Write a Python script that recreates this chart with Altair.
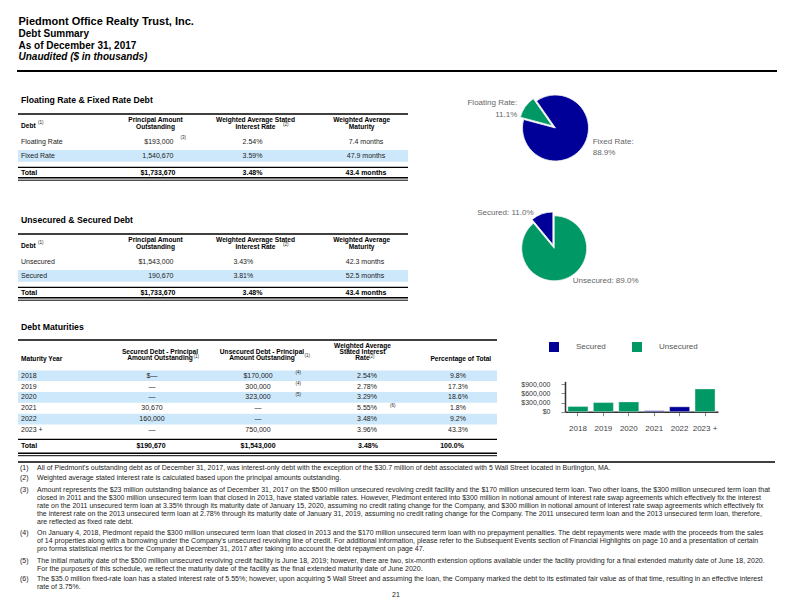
import math
import altair as alt
import pandas as pd

# ----------------------------- data -----------------------------
title_lines = ["Piedmont Office Realty Trust, Inc.", "Debt Summary",
               "As of December 31, 2017", "Unaudited ($ in thousands)"]
section_titles = ["Floating Rate & Fixed Rate Debt", "Unsecured & Secured Debt", "Debt Maturities"]

t1_rows = ["Floating Rate", "Fixed Rate"]
t1_principal = ["$193,000", "1,540,670"]
t1_rate = ["2.54%", "3.59%"]
t1_maturity = ["7.4 months", "47.9 months"]
t1_total = ["Total", "$1,733,670", "3.48%", "43.4 months"]

t2_rows = ["Unsecured", "Secured"]
t2_principal = ["$1,543,000", "190,670"]
t2_rate = ["3.43%", "3.81%"]
t2_maturity = ["42.3 months", "52.5 months"]
t2_total = ["Total", "$1,733,670", "3.48%", "43.4 months"]

years = ["2018", "2019", "2020", "2021", "2022", "2023 +"]
t3_secured = ["$—", "—", "—", "30,670", "160,000", "—"]
t3_unsecured = ["$170,000", "300,000", "323,000", "—", "—", "750,000"]
t3_rate = ["2.54%", "2.78%", "3.29%", "5.55%", "3.48%", "3.96%"]
t3_pct = ["9.8%", "17.3%", "18.6%", "1.8%", "9.2%", "43.3%"]
t3_total = ["Total", "$190,670", "$1,543,000", "3.48%", "100.0%"]

bar_kinds = ["Secured", "Unsecured"]
bar_secured = [0, 0, 0, 30670, 160000, 0]
bar_unsecured = [170000, 300000, 323000, 0, 0, 750000]
bar_ticks = [0, 300000, 600000, 900000]

mix1_labels = ["Fixed Rate", "Floating Rate"]
mix1_amounts = [1540670, 193000]
mix1_pct = ["88.9%", "11.1%"]
mix2_labels = ["Unsecured", "Secured"]
mix2_amounts = [1543000, 190670]
mix2_pct = ["89.0%", "11.0%"]

fn_nums = ["(1)", "(2)", "(3)", "(4)", "(5)", "(6)"]
fn_lines = [
    ["All of Piedmont's outstanding debt as of December 31, 2017, was interest-only debt with the exception of the $30.7 million of debt associated with 5 Wall Street located in Burlington, MA."],
    ["Weighted average stated interest rate is calculated based upon the principal amounts outstanding."],
    ["Amount represents the $23 million outstanding balance as of December 31, 2017 on the $500 million unsecured revolving credit facility and the $170 million unsecured term loan. Two other loans, the $300 million unsecured term loan that",
     "closed in 2011 and the $300 million unsecured term loan that closed in 2013, have stated variable rates.  However, Piedmont entered into $300 million in notional amount of interest rate swap agreements which effectively fix the interest",
     "rate on the 2011 unsecured term loan at 3.35% through its maturity date of January 15, 2020, assuming no credit rating change for the Company, and $300 million in notional amount of interest rate swap agreements which effectively fix",
     "the interest rate on the 2013 unsecured term loan at 2.78% through its maturity date of January 31, 2019, assuming no credit rating change for the Company.  The 2011 unsecured term loan and the 2013 unsecured term loan, therefore,",
     "are reflected as fixed rate debt."],
    ["On January 4, 2018, Piedmont repaid the $300 million unsecured term loan that closed in 2013 and the $170 million unsecured term loan with no prepayment penalties.  The debt repayments were made with the proceeds from the sales",
     "of 14 properties along with a borrowing under the Company's unsecured revolving line of credit.  For additional information, please refer to the Subsequent Events section of Financial Highlights on page 10 and a presentation of certain",
     "pro forma statistical metrics for the Company at December 31, 2017 after taking into account the debt repayment on page 47."],
    ["The initial maturity date of the $500 million unsecured revolving credit facility is June 18, 2019; however, there are two, six-month extension options available under the facility providing for a final extended maturity date of June 18, 2020.",
     "For the purposes of this schedule, we reflect the maturity date of the facility as the final extended maturity date of June 2020."],
    ["The $35.0 million fixed-rate loan has a stated interest rate of 5.55%; however, upon acquiring 5 Wall Street and assuming the loan, the Company marked the debt to its estimated fair value as of that time, resulting in an effective interest",
     "rate of 3.75%."],
]
page_number = "21"

# ----------------------------- styling / layout -----------------------------
NAVY = "#000099"
GREEN = "#009966"
BAND = "#cde8fb"
SANS = "Liberation Sans, Arial, Helvetica, sans-serif"
BODY = "#222222"
OFF = 8
W, H = 776, 596
ONE = alt.Data(values=[{}])


def px(v):
    return v - OFF


layers = []


def text(s, x, y, size=7.0, weight="normal", style="normal", align="left",
         color="#000000", baseline="middle"):
    kw = dict(text=s, align=align, baseline=baseline, fontSize=size, fontWeight=weight,
              fontStyle=style, font=SANS, color=color)
    layers.append(alt.Chart(ONE).mark_text(**kw).encode(x=alt.value(px(x)), y=alt.value(px(y))))


def header(lines, x, y_first, lh, align="center", size=6.6):
    for k, ln in enumerate(lines):
        text(ln, x, y_first + k * lh, size=size, weight="bold", align=align)


def hrule(x1, x2, y, w=1.0, color="#000000"):
    layers.append(alt.Chart(ONE).mark_rule(strokeWidth=w, color=color).encode(
        x=alt.value(px(x1)), x2=alt.value(px(x2)), y=alt.value(px(y))))


def band(x1, x2, y1, y2, color=BAND):
    layers.append(alt.Chart(ONE).mark_rect(color=color).encode(
        x=alt.value(px(x1)), x2=alt.value(px(x2)), y=alt.value(px(y1)), y2=alt.value(px(y2))))


def column(rows, vals, x, align, ytop, ybot, weight="normal", size=7.0):
    df = pd.DataFrame({"row": rows, "val": vals})
    layers.append(alt.Chart(df).mark_text(align=align, baseline="middle", fontSize=size,
                                          fontWeight=weight, font=SANS, color=BODY).encode(
        x=alt.value(px(x)),
        y=alt.Y("row:N", scale=alt.Scale(type="point", domain=rows, range=[px(ytop), px(ybot)], padding=0),
                axis=None),
        text="val:N"))


def sup(s, x, y):
    text(s, x, y, size=4.5, color=BODY)


HDR_SIZE = 6.6

# ----------------------------- header -----------------------------
text(title_lines[0], 18.5, 22, size=11, weight="bold")
text(title_lines[1], 18.5, 34, size=10, weight="bold")
text(title_lines[2], 18.5, 45.5, size=10, weight="bold")
text(title_lines[3], 18.5, 57, size=10, weight="bold", style="italic")
hrule(17, 777, 71, w=2)


# ----------------------------- tables 1 & 2 -----------------------------
def fin_table(title, rows, principal, rate, maturity, total, top, rate_x, mat_x):
    text(title, 21, top - 14, size=8.7, weight="bold")
    band(18, 408, top + 36, top + 47.7)
    hrule(18, 408, top, w=1.5)
    text("Debt", 21, top + 11.5, weight="bold", size=HDR_SIZE)
    sup("(1)", 38, top + 8.7)
    header(["Principal Amount", "Outstanding"], 155.5, top + 6.2, 6.4)
    header(["Weighted Average Stated", "Interest Rate"], 255.5, top + 6.2, 6.4)
    sup("(2)", 283, top + 11.4)
    header(["Weighted Average", "Maturity"], 361.7, top + 6.2, 6.4)
    column(rows, rows, 21, "left", top + 27.7, top + 41.7)
    column(rows, principal, 173.5, "right", top + 27.7, top + 41.7)
    column(rows, rate, rate_x, "center", top + 27.7, top + 41.7)
    column(rows, maturity, mat_x, "center", top + 27.7, top + 41.7)
    hrule(18, 408, top + 53.3, w=1.3)
    text(total[0], 21, top + 59.3, weight="bold")
    text(total[1], 175.5, top + 59.3, weight="bold", align="right")
    text(total[2], 252.5, top + 59.3, weight="bold", align="center")
    text(total[3], 366, top + 59.3, weight="bold", align="center")
    hrule(18, 408, top + 63.7, w=1.5)
    hrule(18, 408, top + 66.2, w=1)


fin_table(section_titles[0], t1_rows, t1_principal, t1_rate, t1_maturity, t1_total, 114, 252.5, 366)
sup("(3)", 180.5, 138.3)
fin_table(section_titles[1], t2_rows, t2_principal, t2_rate, t2_maturity, t2_total, 234, 243.3, 365)

# ----------------------------- table 3 -----------------------------
text(section_titles[2], 21, 327, size=8.7, weight="bold")
Y0, Y1 = 375.7, 430.0
step = (Y1 - Y0) / (len(years) - 1)
for i in (0, 2, 4):
    band(18, 497, Y0 + i * step - 5.3, Y0 + i * step + 5.3)
hrule(18, 497, 340, w=1.5)
text("Maturity Year", 21, 358.5, weight="bold", size=HDR_SIZE)
header(["Secured Debt - Principal", "Amount Outstanding"], 160, 352, 6.0)
sup("(1)", 193.5, 356.8)
header(["Unsecured Debt - Principal", "Amount Outstanding"], 262, 352, 6.0)
sup("(1)", 304.5, 355.5)
header(["Weighted Average", "Stated Interest", "Rate"], 362.5, 346, 6.0)
sup("(2)", 369, 356.5)
text("Percentage of Total", 460.8, 358.5, weight="bold", align="center", size=HDR_SIZE)
column(years, years, 21, "left", Y0, Y1)
column(years, t3_secured, 152, "center", Y0, Y1)
column(years, t3_unsecured, 258, "center", Y0, Y1)
column(years, t3_rate, 367, "center", Y0, Y1)
column(years, t3_pct, 458, "center", Y0, Y1)
sup("(4)", 295.5, 373.3)
sup("(4)", 295.5, 384)
sup("(5)", 295.5, 394.7)
sup("(6)", 390, 405.5)
hrule(18, 497, 439.3, w=1.3)
TY = 446.3
text(t3_total[0], 21, TY, weight="bold")
text(t3_total[1], 151, TY, weight="bold", align="center")
text(t3_total[2], 258, TY, weight="bold", align="center")
text(t3_total[3], 368, TY, weight="bold", align="center")
text(t3_total[4], 452, TY, weight="bold", align="center")
hrule(18, 497, 453.2, w=1.5)
hrule(18, 497, 455.7, w=1)


# ----------------------------- pies -----------------------------
def pie(labels, amounts, start_deg, cx, cy, r, colors, explode_idx, explode_px=4.0):
    df = pd.DataFrame({"label": labels, "amt": amounts, "ord": list(range(len(labels)))})
    total = float(sum(amounts))
    s = math.radians(start_deg)
    cum = 0.0
    for i, lab in enumerate(labels):
        extra = {}
        if i == explode_idx:
            mid = s + 2 * math.pi * (cum + amounts[i] / 2.0) / total
            extra = dict(xOffset=round(math.sin(mid) * explode_px, 2),
                         yOffset=round(-math.cos(mid) * explode_px, 2))
        cum += amounts[i]
        layers.append(
            alt.Chart(df)
            .transform_stack(stack="amt", groupby=[], as_=["a0", "a1"],
                             sort=[alt.SortField("ord", order="ascending")])
            .transform_filter(alt.datum.label == lab)
            .mark_arc(radius=r, stroke="#f4f4f4", strokeWidth=0.8, **extra)
            .encode(
                x=alt.value(px(cx)), y=alt.value(px(cy)),
                theta=alt.Theta("a0:Q", stack=None,
                                scale=alt.Scale(domain=[0, total], range=[s, s + 2 * math.pi])),
                theta2="a1:Q",
                color=alt.value(colors[i]),
            )
        )


PIE_LBL = dict(size=8, color="#666666")
pie(mix1_labels, mix1_amounts, 325, 555.5, 128, 33, [NAVY, GREEN], 1)
text(mix1_labels[1] + ":", 517.3, 103.3, align="right", **PIE_LBL)
text(mix1_pct[1], 517.3, 115, align="right", **PIE_LBL)
text(mix1_labels[0] + ":", 592.7, 142.3, **PIE_LBL)
text(mix1_pct[0], 592.7, 153.3, **PIE_LBL)

pie(mix2_labels, mix2_amounts, 0, 554.2, 248.3, 32.5, [GREEN, NAVY], 1)
text(mix2_labels[1] + ": " + mix2_pct[1], 533.5, 213.3, align="right", **PIE_LBL)
text(mix2_labels[0] + ": " + mix2_pct[0], 572.7, 280.7, **PIE_LBL)

# ----------------------------- bar chart -----------------------------
bar_df = pd.DataFrame({
    "year": years + years,
    "kind": [bar_kinds[0]] * len(years) + [bar_kinds[1]] * len(years),
    "amount": bar_secured + bar_unsecured,
    "korder": [0] * len(years) + [1] * len(years),
})
AXIS_COMMON = dict(title=None, labelFont=SANS, tickSize=4, tickColor="#888888",
                   domainColor="#333333", domainWidth=1.5, grid=False)
layers.append(
    alt.Chart(bar_df)
    .transform_filter("datum.amount > 0")
    .mark_bar(stroke="#f0f0f0", strokeWidth=0.4)
    .encode(
        x=alt.X("year:N", sort=years,
                scale=alt.Scale(domain=years, range=[px(565), px(718)],
                                paddingInner=0.213, paddingOuter=0.117),
                axis=alt.Axis(orient="bottom", offset=px(411.7) - H, labelAngle=0, labelFontSize=8,
                              labelColor="#444444", labelPadding=9, **AXIS_COMMON)),
        y=alt.Y("amount:Q", stack="zero",
                scale=alt.Scale(domain=[0, 1000000], range=[px(411.7), px(381.3)], nice=False),
                axis=alt.Axis(orient="left", offset=-px(565), values=bar_ticks, format="$,.0f",
                              labelFontSize=7, labelColor="#333333", labelPadding=11, **AXIS_COMMON)),
        color=alt.Color("kind:N", scale=alt.Scale(domain=bar_kinds, range=[NAVY, GREEN]),
                        legend=alt.Legend(orient="none", legendX=px(549), legendY=px(342),
                                          direction="horizontal", title=None, symbolType="square",
                                          symbolSize=100, symbolStrokeWidth=0, labelFontSize=8,
                                          labelFont=SANS, labelColor="#555555", labelOffset=17,
                                          columnPadding=26, padding=0)),
        order=alt.Order("korder:Q"),
    )
)

# ----------------------------- footnotes -----------------------------
hrule(18, 775, 462, w=1.5)
fn_y = [467.5, 478, 489.5, 532.5, 560.5, 578.5]
FN = dict(size=7.0, color="#222222")
for num, lines, y in zip(fn_nums, fn_lines, fn_y):
    text(num, 20, y, **FN)
    for k, line in enumerate(lines):
        text(line, 37, y + 8 * k, **FN)
text(page_number, 396, 594.5, size=7, align="center", color="#222222")

chart = (
    alt.layer(*layers)
    .properties(width=W, height=H, padding=0, autosize=alt.AutoSizeParams(type="none"))
    .resolve_scale(x="independent", y="independent", theta="independent", color="independent")
    .configure_view(stroke=None)
)
chart.save("out.html", embed_options={"renderer": "svg", "actions": False})
